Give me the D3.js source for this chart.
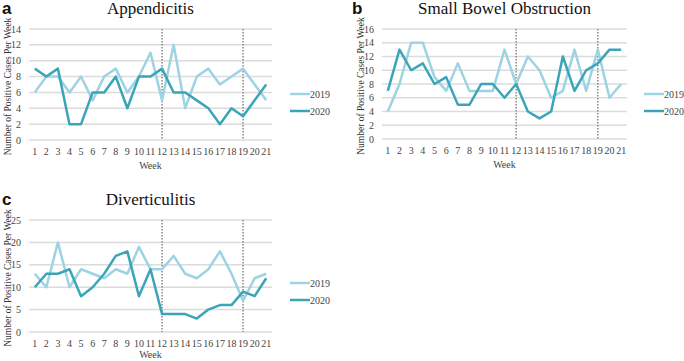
<!DOCTYPE html>
<html>
<head>
<meta charset="utf-8">
<script src="https://cdn.jsdelivr.net/npm/d3@7"></script>
<style>
  body { margin: 0; background: #fff; }
  svg { display: block; }
</style>
</head>
<body>
<div id="chart"></div>
<script>
// weekly positive cases, 2019 vs 2020
const weeks = d3.range(1, 22);
const seriesNames = ['2019', '2020'];

const appendicitis2019 = [6, 8, 8, 6, 8, 5, 8, 9, 6, 8, 11, 5, 12, 4, 8, 9, 7, 8, 9, 7, 5];
const appendicitis2020 = [9, 8, 9, 2, 2, 6, 6, 8, 4, 8, 8, 9, 6, 6, 5, 4, 2, 4, 3, 5, 7];

const sbo2019 = [4, 8, 14, 14, 9, 7, 11, 7, 7, 7, 13, 8, 12, 10, 6, 7, 13, 7, 13, 6, 8];
const sbo2020 = [7, 13, 10, 11, 8, 9, 5, 5, 8, 8, 6, 8, 4, 3, 4, 12, 7, 10, 11, 13, 13];

const divert2019 = [13, 10, 20, 10, 14, 13, 12, 14, 13, 19, 14, 14, 17, 13, 12, 14, 18, 13, 7, 12, 13];
const divert2020 = [10, 13, 13, 14, 8, 10, 13, 17, 18, 8, 14, 4, 4, 4, 3, 5, 6, 6, 9, 8, 12];

const markerWeeks = [12, 19];

const appendTicks = [0, 2, 4, 6, 8, 10, 12, 14];
const sboTicks = [0, 2, 4, 6, 8, 10, 12, 14, 16];
const divertTicks = [0, 5, 10, 15, 20, 25];

const COLORS = { '2019': '#9dd3e2', '2020': '#3aa5b9' };
const SERIF = '"Liberation Serif", "Times New Roman", "DejaVu Serif", serif';

const svg = d3.select('#chart').append('svg')
  .attr('width', 684)
  .attr('height', 361);

const panels = [
  { letter: 'a', title: 'Appendicitis', s2019: appendicitis2019, s2020: appendicitis2020, ticks: appendTicks,
    left: 29, right: 272, top: 29, bottom: 140, letterX: 2, legendX: 290, legendY: 94, weekDy: 29 },
  { letter: 'b', title: 'Small Bowel Obstruction', s2019: sbo2019, s2020: sbo2020, ticks: sboTicks,
    left: 382, right: 627, top: 29, bottom: 139, letterX: 352, legendX: 644, legendY: 94, weekDy: 29 },
  { letter: 'c', title: 'Diverticulitis', s2019: divert2019, s2020: divert2020, ticks: divertTicks,
    left: 29, right: 272, top: 220, bottom: 332, letterX: 2, legendX: 290, legendY: 283, weekDy: 26 }
];

panels.forEach(drawPanel);

function drawPanel(p) {
  const g = svg.append('g');

  const x = d3.scalePoint()
    .domain(weeks)
    .range([p.left, p.right])
    .padding(0.5);

  const y = d3.scaleLinear()
    .domain([0, d3.max(p.ticks)])
    .range([p.bottom, p.top]);

  // gridlines
  g.append('g').selectAll('line')
    .data(p.ticks)
    .join('line')
    .attr('x1', p.left)
    .attr('x2', p.right)
    .attr('y1', d => y(d))
    .attr('y2', d => y(d))
    .attr('stroke', '#dcdcdc')
    .attr('stroke-width', 1.5);

  // y tick labels
  g.append('g').selectAll('text')
    .data(p.ticks)
    .join('text')
    .attr('x', p.left - 8)
    .attr('y', d => y(d) + 3.5)
    .attr('text-anchor', 'end')
    .style('font-family', SERIF)
    .style('font-size', '10px')
    .style('fill', '#444')
    .text(d => d);

  // x tick labels
  g.append('g').selectAll('text')
    .data(weeks)
    .join('text')
    .attr('x', d => x(d))
    .attr('y', p.bottom + 15)
    .attr('text-anchor', 'middle')
    .style('font-family', SERIF)
    .style('font-size', '10px')
    .style('fill', '#444')
    .text(d => d);

  // dotted marker lines
  g.append('g').selectAll('line')
    .data(markerWeeks)
    .join('line')
    .attr('x1', d => x(d))
    .attr('x2', d => x(d))
    .attr('y1', p.top)
    .attr('y2', p.bottom)
    .attr('stroke', '#888')
    .attr('stroke-width', 1.5)
    .attr('stroke-dasharray', '1.5,1.5');

  const line = d3.line()
    .x((d, i) => x(weeks[i]))
    .y(d => y(d));

  [['2019', p.s2019], ['2020', p.s2020]].forEach(([name, vals]) => {
    g.append('path')
      .datum(vals)
      .attr('d', line)
      .attr('fill', 'none')
      .attr('stroke', COLORS[name])
      .attr('stroke-width', 2.5)
      .attr('stroke-linejoin', 'round');
  });

  // axis titles
  g.append('text')
    .attr('x', (p.left + p.right) / 2)
    .attr('y', p.bottom + p.weekDy)
    .attr('text-anchor', 'middle')
    .style('font-family', SERIF)
    .style('font-size', '10px')
    .style('fill', '#444')
    .text('Week');

  g.append('text')
    .attr('transform', `translate(${p.left - 18},${(p.top + p.bottom) / 2 + 2}) rotate(-90)`)
    .attr('text-anchor', 'middle')
    .style('font-family', SERIF)
    .style('font-size', '9.5px')
    .style('fill', '#333')
    .text('Number of Positive Cases Per Week');

  // chart title
  g.append('text')
    .attr('x', (p.left + p.right) / 2)
    .attr('y', p.top - 15)
    .attr('text-anchor', 'middle')
    .style('font-family', SERIF)
    .style('font-size', '17px')
    .style('fill', '#111')
    .text(p.title);

  // panel letter
  g.append('text')
    .attr('x', p.letterX)
    .attr('y', p.top - 15)
    .style('font-family', '"Liberation Sans", Arial, sans-serif')
    .style('font-weight', 'bold')
    .style('font-size', '17px')
    .style('fill', '#111')
    .text(p.letter);

  // legend
  const leg = g.append('g').selectAll('g')
    .data(seriesNames)
    .join('g')
    .attr('transform', (d, i) => `translate(${p.legendX},${p.legendY + i * 17})`);

  leg.append('line')
    .attr('x1', 0)
    .attr('x2', 20)
    .attr('stroke', d => COLORS[d])
    .attr('stroke-width', 2.5);

  leg.append('text')
    .attr('x', 20)
    .attr('y', 3.5)
    .style('font-family', SERIF)
    .style('font-size', '10px')
    .style('fill', '#444')
    .text(d => d);
}
</script>
</body>
</html>
